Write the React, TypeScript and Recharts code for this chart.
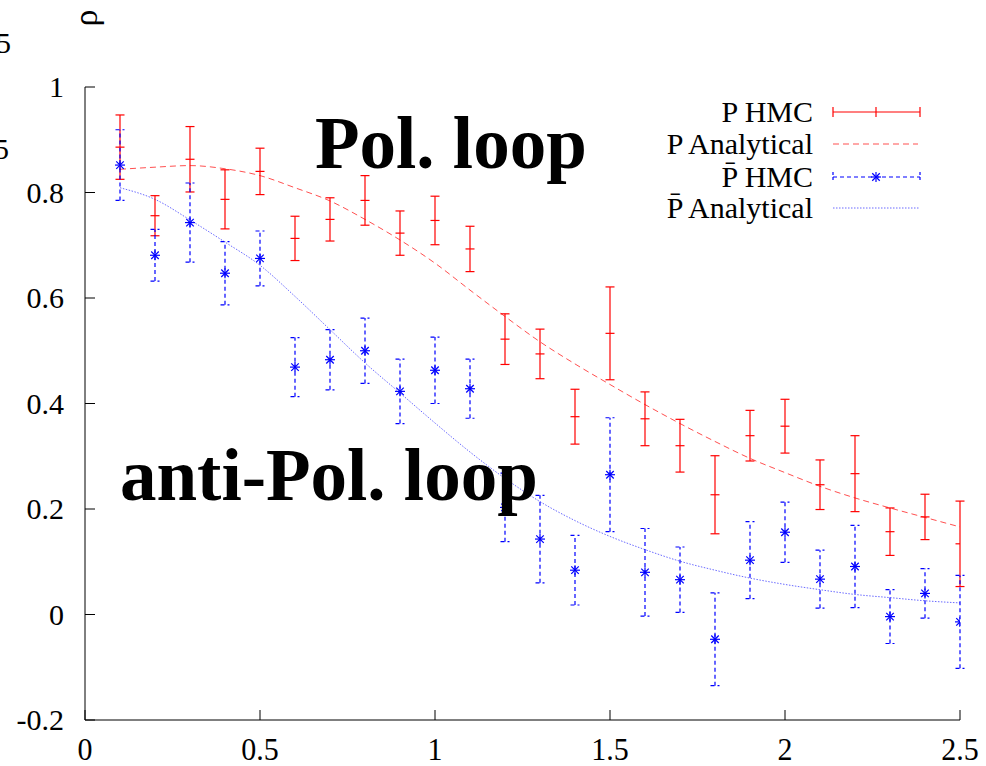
import { ComposedChart, Line, Scatter, ErrorBar, XAxis, YAxis } from "recharts";

// beta values (x axis)
const xs = [0.1, 0.2, 0.3, 0.4, 0.5, 0.6, 0.7, 0.8, 0.9, 1.0, 1.1, 1.2, 1.3, 1.4, 1.5, 1.6, 1.7, 1.8, 1.9, 2.0, 2.1, 2.2, 2.3, 2.4, 2.5];

// P HMC
const pHmc = [0.886, 0.756, 0.863, 0.787, 0.84, 0.713, 0.749, 0.785, 0.723, 0.747, 0.693, 0.522, 0.494, 0.375, 0.533, 0.371, 0.32, 0.227, 0.339, 0.357, 0.246, 0.267, 0.157, 0.185, 0.134];
const pHmcErr = [0.061, 0.038, 0.062, 0.056, 0.044, 0.042, 0.041, 0.047, 0.042, 0.046, 0.043, 0.048, 0.047, 0.052, 0.088, 0.051, 0.05, 0.074, 0.048, 0.051, 0.047, 0.072, 0.045, 0.043, 0.081];

// P-bar HMC
const pbarHmc = [0.852, 0.681, 0.743, 0.647, 0.675, 0.469, 0.483, 0.5, 0.423, 0.463, 0.428, 0.203, 0.143, 0.084, 0.265, 0.08, 0.066, -0.047, 0.103, 0.156, 0.067, 0.091, -0.004, 0.04, -0.014];
const pbarHmcErr = [0.067, 0.049, 0.075, 0.06, 0.052, 0.056, 0.057, 0.062, 0.061, 0.063, 0.056, 0.065, 0.083, 0.066, 0.108, 0.083, 0.062, 0.088, 0.073, 0.057, 0.055, 0.078, 0.051, 0.047, 0.088];

// analytical curves
const pAnalytic = [0.844, 0.848, 0.851, 0.845, 0.832, 0.809, 0.784, 0.749, 0.71, 0.666, 0.615, 0.565, 0.517, 0.475, 0.436, 0.398, 0.362, 0.328, 0.296, 0.269, 0.243, 0.221, 0.202, 0.184, 0.166];
const pbarAnalytic = [0.809, 0.787, 0.748, 0.706, 0.662, 0.603, 0.54, 0.477, 0.42, 0.363, 0.308, 0.258, 0.214, 0.178, 0.148, 0.123, 0.101, 0.084, 0.069, 0.057, 0.047, 0.038, 0.032, 0.026, 0.022];

const xTicks = [0, 0.5, 1, 1.5, 2, 2.5];
const yTicks = [-0.2, 0, 0.2, 0.4, 0.6, 0.8, 1];

const legendLabels = ["P HMC", "P Analytical", "P\u0304 HMC", "P\u0304 Analytical"];

const RED = "#ff0000";
const BLUE = "#0000ff";
const FONT = "Liberation Serif, Times New Roman, Tinos, DejaVu Serif, serif";
const textStyle = { fontFamily: FONT };

const pHmcData = xs.map((x, i) => ({ x, y: pHmc[i], err: pHmcErr[i] }));
const pbarHmcData = xs.map((x, i) => ({ x, y: pbarHmc[i], err: pbarHmcErr[i] }));
const pAnalyticData = xs.map((x, i) => ({ x, y: pAnalytic[i] }));
const pbarAnalyticData = xs.map((x, i) => ({ x, y: pbarAnalytic[i] }));

const BottomTick = (props: any) => {
  const { x, y, payload } = props;
  return (
    <g>
      <line x1={x} y1={y} x2={x} y2={y - 10} stroke="#000" />
      <text transform={`translate(${x},${y + 40}) scale(1,1.05)`} textAnchor="middle" style={textStyle} fontSize={30} fill="#000">
        {payload.value}
      </text>
    </g>
  );
};

const TopTick = (props: any) => {
  const { x, y } = props;
  return <line x1={x} y1={y} x2={x} y2={y + 10} stroke="#000" />;
};

const LeftTick = (props: any) => {
  const { x, y, payload } = props;
  return (
    <g>
      <line x1={x + 21} y1={y} x2={x + 31} y2={y} stroke="#000" />
      <text x={x} y={y + 10} textAnchor="end" style={textStyle} fontSize={30} fill="#000">
        {payload.value}
      </text>
    </g>
  );
};

const RightTick = (props: any) => {
  const { x, y } = props;
  return <line x1={x} y1={y} x2={x - 10} y2={y} stroke="#000" />;
};

const RedPoint = (props: any) => {
  const { cx, cy } = props;
  return <line x1={cx - 4.5} y1={cy} x2={cx + 4.5} y2={cy} stroke={RED} strokeWidth={1.2} />;
};

const Star = ({ cx, cy, r = 5 }: { cx: number; cy: number; r?: number }) => (
  <g stroke={BLUE} strokeWidth={1.2}>
    <line x1={cx - r} y1={cy} x2={cx + r} y2={cy} />
    <line x1={cx} y1={cy - r} x2={cx} y2={cy + r} />
    <line x1={cx - r * 0.75} y1={cy - r * 0.75} x2={cx + r * 0.75} y2={cy + r * 0.75} />
    <line x1={cx - r * 0.75} y1={cy + r * 0.75} x2={cx + r * 0.75} y2={cy - r * 0.75} />
  </g>
);

const BluePoint = (props: any) => <Star cx={props.cx} cy={props.cy} />;

export default function App() {
  const legendRows = [112, 144, 177, 208];
  return (
    <div style={{ position: "absolute", left: 0, top: 0, width: 986, height: 766, background: "#fff" }}>
      <ComposedChart width={986} height={766} margin={{ top: 87, right: 26, bottom: 0, left: 0 }}>
        <XAxis
          xAxisId="bottom"
          dataKey="x"
          type="number"
          domain={[0, 2.5]}
          ticks={xTicks}
          height={46}
          tickSize={0}
          tickMargin={0}
          tickLine={false}
          axisLine={{ stroke: "#000" }}
          tick={<BottomTick />}
          allowDataOverflow
        />
        <XAxis
          xAxisId="top"
          orientation="top"
          type="number"
          domain={[0, 2.5]}
          ticks={xTicks}
          height={0}
          tickSize={0}
          tickMargin={0}
          tickLine={false}
          axisLine={{ stroke: "#000" }}
          tick={<TopTick />}
        />
        <YAxis
          yAxisId="left"
          type="number"
          domain={[-0.2, 1]}
          ticks={yTicks}
          width={85}
          tickSize={0}
          tickMargin={21}
          tickLine={false}
          axisLine={{ stroke: "#000" }}
          tick={<LeftTick />}
          allowDataOverflow
        />
        <YAxis
          yAxisId="right"
          orientation="right"
          type="number"
          domain={[-0.2, 1]}
          ticks={yTicks}
          width={0}
          tickSize={0}
          tickMargin={0}
          tickLine={false}
          axisLine={{ stroke: "#555" }}
          tick={<RightTick />}
        />
        <Line
          xAxisId="bottom"
          yAxisId="left"
          data={pAnalyticData}
          dataKey="y"
          type="monotone"
          stroke="#ff5050"
          strokeWidth={1}
          strokeDasharray="6 4"
          dot={false}
          isAnimationActive={false}
        />
        <Line
          xAxisId="bottom"
          yAxisId="left"
          data={pbarAnalyticData}
          dataKey="y"
          type="monotone"
          stroke="#6a6aff"
          strokeWidth={1}
          strokeDasharray="1.5 1.5"
          dot={false}
          isAnimationActive={false}
        />
        <Scatter xAxisId="bottom" yAxisId="left" data={pHmcData} dataKey="y" shape={RedPoint} isAnimationActive={false}>
          <ErrorBar dataKey="err" direction="y" width={4.5} stroke={RED} strokeWidth={1.2} isAnimationActive={false} />
        </Scatter>
        <Scatter xAxisId="bottom" yAxisId="left" data={pbarHmcData} dataKey="y" shape={BluePoint} isAnimationActive={false}>
          <ErrorBar dataKey="err" direction="y" width={4.5} stroke={BLUE} strokeWidth={1.2} strokeDasharray="4 3" isAnimationActive={false} />
        </Scatter>
      </ComposedChart>

      <svg width={986} height={766} style={{ position: "absolute", left: 0, top: 0, pointerEvents: "none" }}>
        {/* fragments of the neighbouring panel */}
        <text x={11} y={53} textAnchor="end" style={textStyle} fontSize={30} fill="#000">5</text>
        <text x={9} y={159} textAnchor="end" style={textStyle} fontSize={30} fill="#000">5</text>
        <text transform="translate(97,18) rotate(-90)" textAnchor="middle" style={textStyle} fontSize={34} fill="#000">ρ</text>

        <text x={315} y={168} style={textStyle} fontWeight="bold" fontSize={73} fill="#000">Pol. loop</text>
        <text x={120} y={500} style={textStyle} fontWeight="bold" fontSize={73} fill="#000">anti-Pol. loop</text>

        {legendLabels.map((label, i) => (
          <text key={label} x={813} y={legendRows[i] + 10} textAnchor="end" style={textStyle} fontSize={30} fill="#000">
            {label}
          </text>
        ))}
        <g stroke={RED} strokeWidth={1.2}>
          <line x1={833} y1={legendRows[0]} x2={920} y2={legendRows[0]} />
          <line x1={833} y1={legendRows[0] - 5} x2={833} y2={legendRows[0] + 5} />
          <line x1={876} y1={legendRows[0] - 5} x2={876} y2={legendRows[0] + 5} />
          <line x1={920} y1={legendRows[0] - 5} x2={920} y2={legendRows[0] + 5} />
        </g>
        <line x1={833} y1={legendRows[1]} x2={918} y2={legendRows[1]} stroke="#ff5050" strokeDasharray="6 4" />
        <g stroke={BLUE} strokeWidth={1.2}>
          <line x1={833} y1={legendRows[2]} x2={920} y2={legendRows[2]} strokeDasharray="4 3" />
          <line x1={833} y1={legendRows[2] - 5} x2={833} y2={legendRows[2] + 5} strokeDasharray="3 2" />
          <line x1={920} y1={legendRows[2] - 5} x2={920} y2={legendRows[2] + 5} strokeDasharray="3 2" />
        </g>
        <Star cx={876} cy={legendRows[2]} />
        <line x1={833} y1={legendRows[3]} x2={920} y2={legendRows[3]} stroke="#6a6aff" strokeDasharray="1.5 1.5" />
      </svg>
    </div>
  );
}
